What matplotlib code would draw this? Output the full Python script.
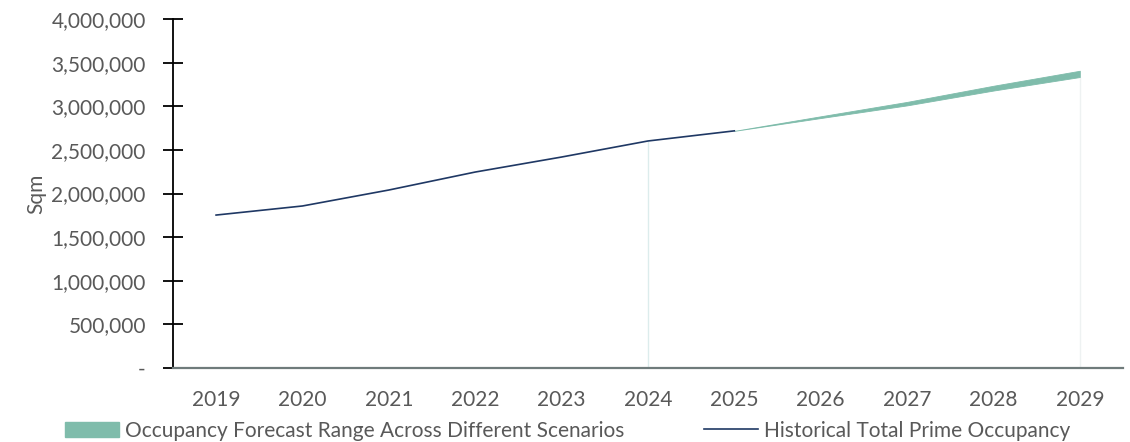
import numpy as np
import matplotlib.pyplot as plt
from matplotlib.ticker import FuncFormatter
from matplotlib.patches import Patch
from matplotlib.lines import Line2D

plt.rcParams['font.family'] = ['Lato', 'DejaVu Sans']

## data
years = [2019, 2020, 2021, 2022, 2023, 2024, 2025, 2026, 2027, 2028, 2029]
hist_years = [2019, 2020, 2021, 2022, 2023, 2024, 2025]
hist_occ = [1753000, 1857000, 2040000, 2246000, 2418000, 2602000, 2718000]
fc_years = [2025, 2026, 2027, 2028, 2029]
fc_low = [2718000, 2865000, 3010000, 3180000, 3335000]
fc_high = [2718000, 2885000, 3050000, 3235000, 3407000]

navy = '#1f3864'
teal = '#7fbcab'
grey_txt = '#595959'
fs = 15

def fmt_sqm(v, pos):
    if v == 0:
        return '-'
    return '{:,.0f}'.format(v)

fig = plt.figure(figsize=[11.3, 4.42], dpi=100)
ax = fig.add_axes([0.153, 0.1674, 0.8408, 0.7896])

pos = {y: i for i, y in enumerate(years)}
xh = [pos[y] for y in hist_years]
xf = [pos[y] for y in fc_years]

## faint drop lines at the end of the history and the forecast
ax.vlines(pos[2024], 0, hist_occ[hist_years.index(2024)], color='#dcecec', lw=1, zorder=1)
ax.vlines(pos[2029], 0, fc_low[-1], color='#eef2f2', lw=1, zorder=1)

ax.fill_between(xf, fc_low, fc_high, color=teal, lw=0.6, edgecolor=teal, zorder=2)
ax.plot(xh, hist_occ, color=navy, lw=1.2, zorder=3)

ax.set_xlim(-0.5, len(years) - 0.5)
ax.set_ylim(0, 4000000)
ax.set_yticks(np.arange(0, 4000001, 500000))
ax.yaxis.set_major_formatter(FuncFormatter(fmt_sqm))
ax.set_xticks(range(len(years)))
ax.set_xticklabels([str(y) for y in years])

for s in ['top', 'right']:
    ax.spines[s].set_visible(False)
ax.spines['left'].set_color('black')
ax.spines['left'].set_linewidth(1.3)
ax.spines['bottom'].set_color('#6f7b7b')
ax.spines['bottom'].set_linewidth(1.6)

ax.tick_params(axis='y', direction='inout', length=15, width=1.3, colors='black',
               labelcolor=grey_txt, labelsize=fs, pad=12)
ax.tick_params(axis='x', length=0, labelcolor=grey_txt, labelsize=fs, pad=16)
ax.set_ylabel('Sqm', color=grey_txt, fontsize=fs, labelpad=4)

handles = [Patch(facecolor=teal, edgecolor=teal),
           Line2D([0], [0], color=navy, lw=1.2)]
labels = ['Occupancy Forecast Range Across Different Scenarios',
          'Historical Total Prime Occupancy']
leg = fig.legend(handles, labels, loc='lower left', bbox_to_anchor=(0.041, -0.04),
                 ncol=2, frameon=False, fontsize=fs, handlelength=2.6,
                 handleheight=0.75, handletextpad=0.3, columnspacing=3.8)
for t in leg.get_texts():
    t.set_color(grey_txt)

fig.savefig('out.png', dpi=100)
